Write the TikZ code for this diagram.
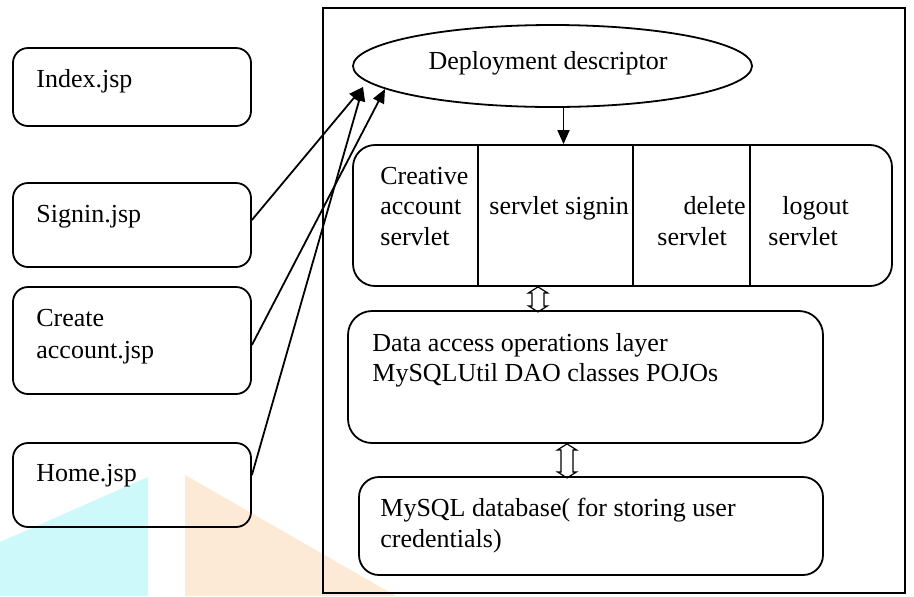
\documentclass[tikz,border=0pt]{standalone}
\usepackage{fontspec}
\setmainfont{Liberation Serif}
\usetikzlibrary{shapes.geometric,arrows.meta}
\definecolor{wmcyan}{RGB}{205,249,251}
\definecolor{wmorange}{RGB}{253,234,214}
\begin{document}
\begin{tikzpicture}[x=0.5pt,y=-0.5pt,
  font=\fontsize{13pt}{15pt}\selectfont,
  jspbox/.style={draw, rounded corners=7.5pt, line width=0.9pt, minimum width=119pt, inner sep=0pt},
  layer/.style={draw, line width=0.9pt, inner sep=0pt},
  lbl/.style={anchor=base west, inner sep=0pt},
  arr/.style={line width=0.9pt, -{Triangle[length=7pt,width=6pt]}},
  dbl/.style={draw, line width=0.6pt, line join=miter},
  divider/.style={line width=0.9pt}]

% canvas
\fill[white] (0,0) rectangle (914,596);
\useasboundingbox (0,0) rectangle (914,596);

% faint background logo shapes
\fill[wmcyan] (0,542) -- (148,477) -- (148,596) -- (0,596) -- cycle;
\fill[wmorange] (185,475) -- (396,596) -- (185,596) -- cycle;

% JSP pages
\node[jspbox, minimum height=39pt] (index)  at (132,87)    {};
\node[jspbox, minimum height=42pt] (signin) at (132,225)   {};
\node[jspbox, minimum height=53.5pt] (create) at (132,340.5) {};
\node[jspbox, minimum height=42pt] (home)   at (132,485)   {};

\node[lbl] (tIndex)   at (36,87)  {Index.jsp};
\node[lbl] (tSignin)  at (36,222) {Signin.jsp};
\node[lbl] (tCreateA) at (36,326) {Create};
\node[lbl] (tCreateB) at (36,358) {account.jsp};
\node[lbl] (tHome)    at (36,481) {Home.jsp};

% server side container
\node[layer, minimum width=291pt, minimum height=292.5pt] (server) at (614,300.5) {};

% deployment descriptor
\node[draw, ellipse, line width=0.9pt, minimum width=199.5pt, minimum height=41pt, inner sep=0pt] (dd) at (552.5,66) {};
\node[anchor=base, inner sep=0pt] (tDD) at (548,69) {Deployment descriptor};

% servlets
\node[layer, rounded corners=11pt, minimum width=269.5pt, minimum height=70.5pt] (sv) at (622.5,215.5) {};
\coordinate (d1) at (478,0);
\coordinate (d2) at (633,0);
\coordinate (d3) at (750,0);
\draw[divider] (sv.north -| d1) -- (sv.south -| d1);
\draw[divider] (sv.north -| d2) -- (sv.south -| d2);
\draw[divider] (sv.north -| d3) -- (sv.south -| d3);

\node[lbl] (tCrA) at (380,184) {Creative};
\node[lbl] (tCrB) at (380,214) {account};
\node[lbl] (tCrC) at (380,245) {servlet};
\node[lbl] (tSig) at (489,214) {servlet signin};
\node[anchor=base east, inner sep=0pt] (tDelA) at (746,214) {delete};
\node[lbl] (tDelB) at (657,245) {servlet};
\node[lbl] (tLogA) at (782,214) {logout};
\node[lbl] (tLogB) at (768,245) {servlet};

% data access layer
\node[layer, rounded corners=12pt, minimum width=237.5pt, minimum height=66pt] (dao) at (585.5,377) {};
\node[lbl] (tDaoA) at (372,351) {Data access operations layer};
\node[lbl] (tDaoB) at (372,381) {MySQLUtil DAO classes POJOs};

% database
\node[layer, rounded corners=10pt, minimum width=232pt, minimum height=49pt] (db) at (591,526) {};
\node[lbl] (tDbA) at (380,516) {MySQL database( for storing user};
\node[lbl] (tDbB) at (380,547) {credentials)};

% requests from pages to the descriptor
\coordinate (tipA) at (363,87);
\coordinate (tipB) at (385,89);
\draw[arr] ([yshift=2.5pt]signin.east) -- (tipA);
\draw[arr] ([yshift=-2.25pt]create.east) -- (tipB);
\draw[arr] ([yshift=5pt]home.east) -- (tipA);

% descriptor to servlets
\draw[arr] ([xshift=5.5pt]dd.south) -- ([xshift=5.5pt]dd.south |- sv.north);

% two-way links between layers
\coordinate (c1) at (538,0);
\coordinate (c2) at (567,0);
\draw[dbl] (sv.south -| c1) -- ++(9.5,6) -- ++(-3.5,0) -- ++(0,13) -- ++(3.5,0)
  -- ++(-9.5,6) -- ++(-9.5,-6) -- ++(3.5,0) -- ++(0,-13) -- ++(-3.5,0) -- cycle;
\draw[dbl] (dao.south -| c2) -- ++(9.5,6) -- ++(-3.5,0) -- ++(0,22) -- ++(3.5,0)
  -- ++(-9.5,6) -- ++(-9.5,-6) -- ++(3.5,0) -- ++(0,-22) -- ++(-3.5,0) -- cycle;
\end{tikzpicture}
\end{document}
